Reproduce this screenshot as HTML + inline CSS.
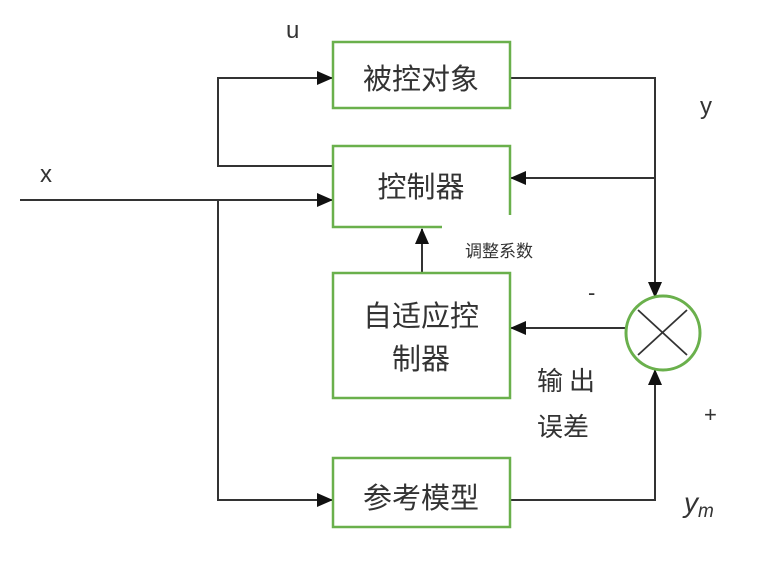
<!DOCTYPE html>
<html><head><meta charset="utf-8"><style>
body{margin:0;background:#fff;}
svg text{font-family:"Liberation Sans","Noto Sans CJK SC",sans-serif;fill:#333;}
</style></head><body>
<svg width="759" height="568" viewBox="0 0 759 568" xmlns="http://www.w3.org/2000/svg">
<defs><marker id="b" markerWidth="16" markerHeight="14" refX="15" refY="7" orient="auto" markerUnits="userSpaceOnUse"><path d="M0,0 L16,7 L0,14 z" fill="#111"/></marker></defs>
<g stroke="#333" stroke-width="2" fill="none">
<line x1="20" y1="200" x2="332" y2="200" marker-end="url(#b)"/>
<polyline points="333,166 218,166 218,78 332,78" marker-end="url(#b)"/>
<polyline points="218,200 218,500 332,500" marker-end="url(#b)"/>
<polyline points="510,78 655,78 655,297" marker-end="url(#b)"/>
<polyline points="655,178 511,178" marker-end="url(#b)"/>
<line x1="626" y1="328" x2="511" y2="328" marker-end="url(#b)"/>
<polyline points="510,500 655,500 655,370" marker-end="url(#b)"/>
<line x1="422" y1="273" x2="422" y2="229" marker-end="url(#b)"/>
</g>
<g stroke="#6ab04c" stroke-width="2.5" fill="none">
<rect x="333" y="42" width="177" height="66"/>
<polyline points="510,215 510,146 333,146 333,227 442,227"/>
<rect x="333" y="273" width="177" height="125"/>
<rect x="333" y="458" width="177" height="69"/>
<circle cx="663" cy="333" r="37" stroke-width="3"/>
</g>
<g stroke="#333" stroke-width="1.8"><line x1="638" y1="310" x2="687" y2="355"/><line x1="687" y1="310" x2="638" y2="355"/></g>
<g font-size="29" text-anchor="middle">
<text x="421" y="89">被控对象</text>
<text x="421" y="197">控制器</text>
<text x="421" y="326">自适应控</text>
<text x="421" y="369">制器</text>
<text x="421" y="508">参考模型</text>
</g>
<text x="286" y="38" font-size="24">u</text>
<text x="700" y="114" font-size="24">y</text>
<text x="40" y="182" font-size="24">x</text>
<text x="465" y="257" font-size="17">调整系数</text>
<text x="588" y="300" font-size="22">-</text>
<text x="537" y="390" font-size="26" letter-spacing="6">输出</text>
<text x="537" y="436" font-size="26">误差</text>
<text x="704" y="422" font-size="22">+</text>
<text x="684" y="512" font-size="28" font-style="italic" font-family="Liberation Serif,serif">y<tspan font-size="19" dy="5">m</tspan></text>
</svg>
</body></html>
